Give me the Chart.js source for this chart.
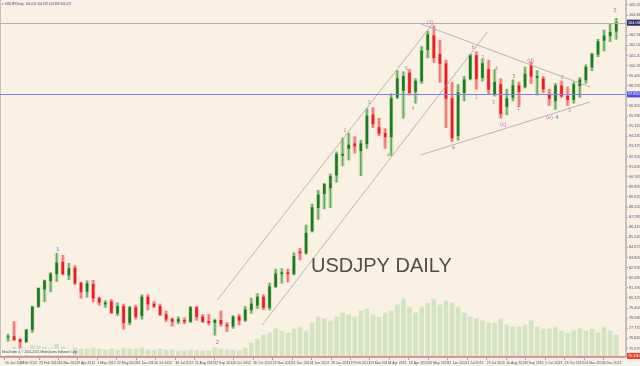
<!DOCTYPE html>
<html>
<head>
<meta charset="utf-8">
<script src="https://cdn.jsdelivr.net/npm/chart.js@4.4.0/dist/chart.umd.min.js"></script>
<style>
html, body { margin: 0; padding: 0; background: #fbf0e4; overflow: hidden; }
canvas { display: block; }
</style>
</head>
<body>
<canvas id="grafico" width="640" height="366"></canvas>
<script>
// velas semanales USDJPY, ene 2012 - dic 2013 (índice = semana desde 16 ene 2012)
const apertura = [
  76.95, 77.00, 76.75, 76.55, 77.60, 79.60, 81.10, 81.80, 82.40, 83.40,
  82.30, 82.90, 81.60, 80.90, 81.50, 80.30, 79.80, 80.00, 79.00, 79.60,
  78.20, 79.50, 78.80, 80.40, 79.80, 79.60, 78.90, 78.50, 78.30, 78.40,
  78.30, 79.50, 78.70, 78.30, 78.20, 78.40, 78.00, 77.90, 78.70, 78.40,
  79.30, 79.70, 80.40, 79.50, 81.30, 82.40, 82.50, 82.40, 84.30, 84.20,
  86.10, 88.10, 89.30, 89.80, 90.90, 92.60, 93.20, 93.60, 93.00, 93.60,
  96.10, 95.00, 94.50, 94.20, 97.60, 98.20, 99.70, 98.10, 99.00, 101.70,
  102.90, 101.30, 100.50, 97.50, 94.30, 98.00, 99.20, 101.20, 99.30, 100.00,
  97.90, 98.70, 96.80, 97.60, 98.60, 98.50, 100.30, 99.30, 99.20, 97.80,
  97.30, 98.60, 97.70, 97.40, 98.60, 99.10, 100.20, 101.30, 102.50, 102.90,
  103.30
];
const maximo = [
  77.20, 78.29, 76.80, 77.60, 79.60, 81.20, 81.87, 82.50, 84.18, 84.00,
  83.30, 83.10, 81.70, 81.80, 81.85, 80.40, 80.10, 80.20, 79.90, 79.80,
  79.60, 79.70, 80.60, 80.60, 80.00, 79.80, 79.20, 78.60, 78.70, 78.60,
  79.60, 79.60, 78.90, 78.90, 78.50, 79.20, 78.20, 78.80, 78.90, 79.60,
  80.30, 80.70, 80.60, 81.60, 82.80, 82.85, 82.80, 84.20, 84.60, 86.60,
  88.40, 89.60, 90.20, 91.00, 92.90, 94.10, 94.50, 94.20, 93.90, 96.60,
  96.70, 95.80, 94.90, 97.90, 99.90, 99.80, 100.00, 99.20, 101.98, 103.30,
  103.74, 102.50, 100.80, 98.90, 98.70, 99.40, 101.30, 101.53, 100.90, 100.80,
  100.00, 99.20, 98.30, 99.10, 98.90, 100.20, 100.62, 99.90, 99.40, 98.30,
  98.80, 99.00, 98.50, 98.90, 99.30, 100.40, 101.40, 102.60, 103.40, 103.90,
  104.40
];
const minimo = [
  76.60, 76.70, 76.02, 76.50, 77.35, 79.50, 80.00, 80.85, 81.75, 82.30,
  81.90, 81.50, 80.30, 80.40, 80.00, 79.70, 79.50, 79.00, 78.80, 77.65,
  78.00, 78.50, 78.50, 79.30, 79.50, 78.80, 78.30, 77.90, 78.10, 78.10,
  78.20, 78.40, 78.20, 78.00, 77.13, 77.90, 77.42, 77.70, 78.00, 78.30,
  79.00, 79.40, 79.30, 79.30, 81.20, 81.60, 81.70, 82.30, 83.60, 84.10,
  86.00, 87.10, 88.00, 88.10, 90.30, 91.70, 92.20, 92.80, 90.85, 93.20,
  95.00, 94.30, 93.20, 92.60, 97.50, 95.80, 97.80, 97.10, 98.80, 101.00,
  100.60, 98.90, 94.98, 93.79, 93.90, 97.30, 99.10, 98.30, 99.00, 97.90,
  97.70, 95.81, 96.10, 97.30, 96.80, 98.40, 98.80, 97.80, 98.00, 96.90,
  96.56, 97.60, 96.90, 97.10, 97.60, 98.80, 99.90, 101.10, 101.60, 102.40,
  102.60
];
const cierre = [
  76.98, 76.70, 76.55, 77.58, 79.55, 81.15, 81.80, 82.40, 83.35, 82.40,
  82.85, 81.60, 80.85, 81.55, 80.30, 79.95, 79.90, 79.05, 79.60, 78.20,
  79.50, 78.70, 80.40, 79.80, 79.60, 78.90, 78.50, 78.30, 78.50, 78.30,
  79.50, 78.70, 78.30, 78.20, 78.40, 78.10, 77.90, 78.70, 78.40, 79.30,
  79.80, 80.40, 79.50, 81.30, 82.40, 82.50, 82.40, 83.90, 84.20, 85.90,
  88.10, 89.20, 90.10, 90.80, 92.70, 92.70, 93.50, 93.40, 93.60, 96.00,
  95.30, 94.50, 94.20, 97.50, 99.20, 99.40, 98.00, 99.00, 101.60, 103.00,
  101.00, 100.50, 97.50, 94.10, 98.00, 99.10, 101.20, 99.20, 100.50, 98.30,
  98.90, 96.20, 97.50, 98.60, 98.10, 99.60, 99.40, 99.40, 98.30, 97.50,
  98.60, 97.70, 97.40, 98.70, 99.10, 100.20, 101.30, 102.40, 102.90, 103.20,
  104.03
];
const volumen = [
  8, 10, 9, 8, 12, 11, 10, 9, 13, 10,
  8, 9, 8, 8, 9, 8, 7, 8, 7, 9,
  8, 8, 9, 7, 7, 8, 7, 7, 6, 6,
  7, 6, 6, 6, 9, 8, 7, 7, 6, 9,
  14, 18, 22, 24, 28, 26, 24, 28, 30, 26,
  34, 40, 38, 36, 40, 44, 42, 40, 46, 48,
  42, 40, 44, 46, 52, 58, 50, 44, 50, 54,
  58, 52, 56, 54, 50, 44, 40, 38, 36, 34,
  34, 38, 32, 30, 30, 32, 36, 30, 28, 28,
  30, 26, 24, 26, 28, 26, 28, 24, 30, 26,
  22
];

// etiquetas de fecha (posición en semanas) y precios del eje
const etiquetasX = ['16 Jan 2012', '1 Feb 2012', '23 Feb 2012', '16 Mar 2012', '9 Apr 2012', '1 May 2012',
  '23 May 2012', '14 Jun 2012', '6 Jul 2012', '30 Jul 2012', '21 Aug 2012', '12 Sep 2012', '4 Oct 2012',
  '26 Oct 2012', '19 Nov 2012', '11 Dec 2012', '4 Jan 2013', '28 Jan 2013', '19 Feb 2013', '13 Mar 2013',
  '4 Apr 2013', '26 Apr 2013', '20 May 2013', '11 Jun 2013', '3 Jul 2013', '25 Jul 2013', '16 Aug 2013',
  '9 Sep 2013', '1 Oct 2013', '23 Oct 2013', '14 Nov 2013', '6 Dec 2013'];
const posX = [-0.5, 1.9, 5.1, 8.3, 11.5, 14.7, 17.9, 21.1, 24.3, 27.5, 30.7, 33.9, 37.1, 40.3, 43.5, 46.7,
  49.9, 53.1, 56.3, 59.5, 62.7, 65.9, 69.1, 72.3, 75.5, 78.7, 81.9, 85.1, 88.3, 91.5, 94.7, 97.9];
const preciosY = [105.555, 104.685, 103.815, 102.945, 102.075, 101.205, 100.335, 99.465, 98.595, 97.725,
  96.855, 95.985, 95.115, 94.245, 93.375, 92.505, 91.635, 90.765, 89.895, 89.025, 88.155, 87.285,
  86.415, 85.545, 84.675, 83.805, 82.935, 82.065, 81.195, 80.325, 79.455, 78.585, 77.715, 76.845, 75.975];

// líneas de tendencia: [semana inicio, precio inicio, semana fin, precio fin]
const canalSup = [34.4, 80.15, 69.9, 104.0];
const canalInf = [41.8, 78.0, 78.8, 103.22];
const trianguloSup = [67.9, 103.91, 95.7, 98.49];
const trianguloInf = [67.8, 92.63, 95.7, 97.2];
const nivelBid = 104.03;
const nivelAzul = 97.85;
const nivelRojo = 75.33;

// etiquetas de ondas
const ondasTexto = ['1', '2', '(3)', 'a', 'b', '(c)', '(d)', '(e)', '4', '5'];
const ondasSemana = [8.2, 34.4, 69.4, 73.2, 76.5, 81.4, 85.9, 89.0, 90.2, 99.8];
const ondasPrecio = [84.54, 76.45, 104.05, 93.24, 101.85, 95.3, 100.73, 95.9, 95.9, 105.12];
const ondasMenorTexto = ['1', '2', '3', '4', '5', '4', '1', '2', '3', '4', '5', '1', '2', '3'];
const ondasMenorSemana = [55.4, 53.0, 59.4, 62.5, 65.5, 66.6, 77.0, 78.1, 79.8, 80.3, 83.2, 83.9, 91.1, 92.3];
const ondasMenorPrecio = [94.7, 90.3, 97.1, 92.6, 100.1, 96.6, 97.6, 101.0, 97.1, 100.1, 99.4, 96.6, 99.3, 96.4];

const sube = i => cierre[i] >= apertura[i];

function linea(seg) {
  return {
    type: 'line',
    data: [{ x: seg[0], y: seg[1] }, { x: seg[2], y: seg[3] }],
    borderColor: '#a8a4a0',
    borderWidth: 0.8,
    pointRadius: 0,
    order: 1
  };
}

// dibujos extra: fondo, niveles, textos
const dibujos = {
  id: 'dibujos',
  beforeDraw(c) {
    const g = c.ctx;
    g.save();
    g.fillStyle = '#fbf0e4';
    g.fillRect(0, 0, c.width, c.height);
    g.strokeStyle = '#c8c0b8';
    g.lineWidth = 1;
    g.beginPath();
    g.moveTo(0.5, 0);
    g.lineTo(0.5, c.chartArea.bottom);
    g.stroke();
    g.restore();
  },
  afterDatasetsDraw(c) {
    const g = c.ctx;
    const y = c.scales.y, x = c.scales.x;
    const { left, right } = c.chartArea;
    g.save();
    [[nivelBid, '#b8b0a8'], [nivelAzul, '#8080f0'], [nivelRojo, '#f08080']].forEach(([v, col]) => {
      const py = Math.round(y.getPixelForValue(v)) + 0.5;
      g.strokeStyle = col;
      g.lineWidth = 1;
      g.beginPath();
      g.moveTo(left, py);
      g.lineTo(right, py);
      g.stroke();
    });

    g.textAlign = 'center';
    g.textBaseline = 'middle';
    ondasMenorTexto.forEach((t, i) => {
      g.font = '4.5px "Liberation Sans"';
      g.fillStyle = '#9a8a80';
      g.fillText(t, x.getPixelForValue(ondasMenorSemana[i]), y.getPixelForValue(ondasMenorPrecio[i]));
    });
    ondasTexto.forEach((t, i) => {
      const azul = t === '1' || t === '2' || t === '4';
      g.font = '5.5px "Liberation Sans"';
      g.fillStyle = azul ? '#6a6ae0' : (t === '5' ? '#b08080' : '#d868c8');
      g.fillText(t, x.getPixelForValue(ondasSemana[i]), y.getPixelForValue(ondasPrecio[i]));
    });

    g.font = '20px "Liberation Sans"';
    g.fillStyle = '#4e4e4e';
    g.textAlign = 'left';
    g.textBaseline = 'alphabetic';
    g.fillText('USDJPY DAILY', 311, 272);

    g.font = '3px "Liberation Sans"';
    g.fillStyle = '#3c3c90';
    g.textBaseline = 'middle';
    g.fillText('\u25BE USDJPY,Daily  104.054 104.079 103.858 104.027', 2, 4);

    g.fillStyle = 'rgba(255,255,255,0.7)';
    g.fillRect(1, 349, 72, 6);
    g.fillStyle = '#404040';
    g.fillText('MetaTrader 4, \u00A9 2001-2013, MetaQuotes Software Corp.', 2, 352);
    g.restore();
  },
  afterDraw(c) {
    const g = c.ctx;
    const y = c.scales.y;
    g.save();
    g.font = '3.8px "Liberation Sans"';
    g.textBaseline = 'middle';
    g.textAlign = 'left';
    [[nivelBid, '#26306e'], [nivelAzul, '#5050e8'], [nivelRojo, '#f03a2a']].forEach(([v, col]) => {
      const py = y.getPixelForValue(v);
      g.fillStyle = col;
      g.fillRect(c.chartArea.right + 1, py - 3, 13, 6);
      g.fillStyle = '#ffffff';
      g.fillText(v.toFixed(3), c.chartArea.right + 2, py);
    });
    g.restore();
  }
};

const puntos = arr => arr.map((v, i) => ({ x: i, y: v }));

new Chart(document.getElementById('grafico'), {
  type: 'bar',
  data: {
    datasets: [
      {
        label: 'volumen',
        data: puntos(volumen),
        yAxisID: 'v',
        backgroundColor: 'rgba(160,212,150,0.45)',
        barThickness: 4,
        grouped: false,
        order: 6
      },
      {
        label: 'sombra',
        data: maximo.map((h, i) => ({ x: i, y: [minimo[i], h] })),
        backgroundColor: ctx => sube(ctx.dataIndex) ? '#c4e0b8' : '#f7bdb6',
        barThickness: 3.5,
        grouped: false,
        order: 5
      },
      {
        label: 'mecha',
        data: maximo.map((h, i) => ({ x: i, y: [minimo[i], h] })),
        backgroundColor: ctx => sube(ctx.dataIndex) ? '#6aa85e' : '#ec7470',
        barThickness: 1,
        grouped: false,
        order: 4
      },
      {
        label: 'cuerpo',
        data: apertura.map((o, i) => ({ x: i, y: [o, cierre[i]] })),
        backgroundColor: ctx => sube(ctx.dataIndex) ? '#1f7a1f' : '#ee1c1c',
        barThickness: 2,
        grouped: false,
        order: 3
      },
      linea(canalSup),
      linea(canalInf),
      linea(trianguloSup),
      linea(trianguloInf)
    ]
  },
  options: {
    responsive: false,
    animation: false,
    devicePixelRatio: 1,
    layout: { padding: 0 },
    plugins: { legend: { display: false }, tooltip: { enabled: false } },
    scales: {
      x: {
        type: 'linear',
        offset: false,
        min: -1.32,
        max: 101.6,
        afterBuildTicks: s => { s.ticks = posX.map(v => ({ value: v })); },
        afterFit: s => { s.height = 9; s.paddingLeft = 0; s.paddingRight = 0; },
        ticks: {
          callback: (v, i) => etiquetasX[i],
          align: 'start',
          maxRotation: 0,
          autoSkip: false,
          padding: 1,
          color: '#505070',
          font: { size: 3.5, family: 'Liberation Sans' }
        },
        grid: { drawOnChartArea: false, offset: false, tickLength: 3, color: '#a0a0b0' },
        border: { color: '#b0b0c0' }
      },
      y: {
        type: 'linear',
        position: 'right',
        min: 75.24,
        max: 105.98,
        afterBuildTicks: s => { s.ticks = preciosY.map(v => ({ value: v })); },
        afterFit: s => { s.width = 14; s.paddingTop = 0; s.paddingBottom = 0; },
        ticks: {
          callback: v => v.toFixed(3),
          padding: 1,
          color: '#505080',
          font: { size: 3.8, family: 'Liberation Sans' }
        },
        grid: { drawOnChartArea: false, tickLength: 2, color: '#a0a0b0' },
        border: { color: '#c8c0c0', width: 2 }
      },
      v: {
        type: 'linear',
        display: false,
        min: 0,
        max: 357
      }
    }
  },
  plugins: [dibujos]
});
</script>
</body>
</html>
